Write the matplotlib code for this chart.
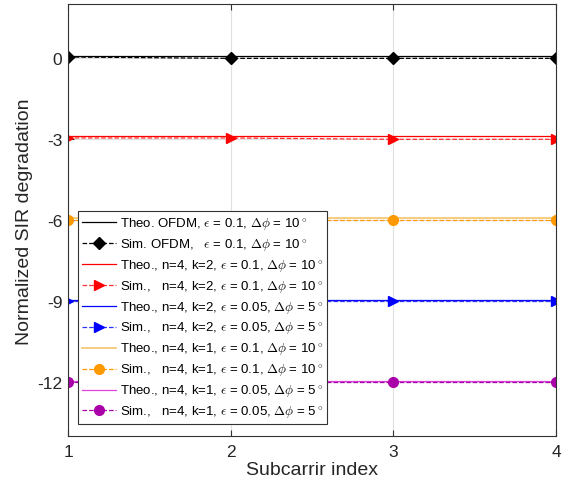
import numpy as np
import matplotlib.pyplot as plt

plt.rcParams['font.family'] = ['Liberation Sans', 'DejaVu Sans']
plt.rcParams['mathtext.fontset'] = 'cm'

subcarrier = [1, 2, 3, 4]

theo_ofdm = [0.1, 0.1, 0.1, 0.1]
sim_ofdm = [0.05, 0.0, 0.0, 0.0]
theo_k2_a = [-2.88, -2.88, -2.88, -2.88]
sim_k2_a = [-2.95, -2.95, -3.0, -3.0]
theo_k2_b = [-8.95, -8.95, -8.95, -8.95]
sim_k2_b = [-9.0, -9.0, -9.0, -9.0]
theo_k1_a = [-5.9, -5.9, -5.9, -5.9]
sim_k1_a = [-6.0, -6.0, -6.0, -6.0]
theo_k1_b = [-11.95, -11.95, -11.95, -11.95]
sim_k1_b = [-12.0, -12.0, -12.0, -12.0]

eps = r'$\epsilon$'
dphi = r'$\Delta\phi$'
deg = r'$^\circ$'

fig = plt.figure(figsize=(5.67, 4.89), dpi=100)
ax = fig.add_axes([0.12, 0.106, 0.861, 0.883])

ax.plot(subcarrier, theo_ofdm, color='black', lw=0.9,
        label=f'Theo. OFDM, {eps} = 0.1, {dphi} = 10{deg}')
ax.plot(subcarrier, sim_ofdm, color='black', ls='--', lw=0.9, marker='D', ms=6,
        label=f'Sim. OFDM,   {eps} = 0.1, {dphi} = 10{deg}')
ax.plot(subcarrier, theo_k2_a, color='#ff0000', lw=0.9,
        label=f'Theo., n=4, k=2, {eps} = 0.1, {dphi} = 10{deg}')
ax.plot(subcarrier, sim_k2_a, color='#ff3030', ls='--', lw=0.9, marker='>', ms=7,
        markerfacecolor='#ff0000', markeredgecolor='#ff0000',
        label=f'Sim.,   n=4, k=2, {eps} = 0.1, {dphi} = 10{deg}')
ax.plot(subcarrier, theo_k2_b, color='#0000ff', lw=0.9,
        label=f'Theo., n=4, k=2, {eps} = 0.05, {dphi} = 5{deg}')
ax.plot(subcarrier, sim_k2_b, color='#3030ff', ls='--', lw=0.9, marker='>', ms=7,
        markerfacecolor='#0000ff', markeredgecolor='#0000ff',
        label=f'Sim.,   n=4, k=2, {eps} = 0.05, {dphi} = 5{deg}')
ax.plot(subcarrier, theo_k1_a, color='#f5c46a', lw=1.2,
        label=f'Theo., n=4, k=1, {eps} = 0.1, {dphi} = 10{deg}')
ax.plot(subcarrier, sim_k1_a, color='#ff9900', ls='--', lw=0.9, marker='o', ms=7,
        label=f'Sim.,   n=4, k=1, {eps} = 0.1, {dphi} = 10{deg}')
ax.plot(subcarrier, theo_k1_b, color='#dd44dd', lw=0.9,
        label=f'Theo., n=4, k=1, {eps} = 0.05, {dphi} = 5{deg}')
ax.plot(subcarrier, sim_k1_b, color='#aa00aa', ls='--', lw=0.9, marker='o', ms=7,
        label=f'Sim.,   n=4, k=1, {eps} = 0.05, {dphi} = 5{deg}')

ax.set_xlim(1, 4)
ax.set_ylim(-14, 2)
ax.set_xticks([1, 2, 3, 4])
ax.set_yticks([0, -3, -6, -9, -12])
ax.set_yticklabels(['0', '-3', '-6', '-9', '-12'])
ax.tick_params(direction='in', top=True, right=True, labelsize=12.5, length=4,
               color='#333333', labelcolor='#262626')
ax.tick_params(axis='x', pad=6)
ax.tick_params(axis='y', pad=4)
for s in ax.spines.values():
    s.set_color('#333333')
    s.set_linewidth(0.8)
ax.grid(True, color='#e0e0e0', lw=0.8)
ax.set_axisbelow(True)

ax.set_xlabel('Subcarrir index', fontsize=14, color='#262626', labelpad=1)
ax.set_ylabel('Normalized SIR degradation', fontsize=14, color='#262626', labelpad=3)

leg = ax.legend(loc='lower left', bbox_to_anchor=(0.02, 0.028), fontsize=9.5,
                frameon=True, fancybox=False, edgecolor='#333333', framealpha=1,
                handlelength=2.6, handletextpad=0.3, borderpad=0.3, labelspacing=0.3,
                borderaxespad=0)
leg.get_frame().set_linewidth(0.8)

fig.savefig('out.png', dpi=100)
